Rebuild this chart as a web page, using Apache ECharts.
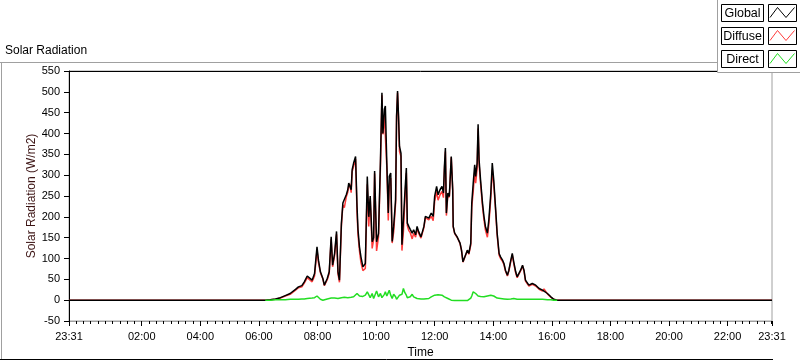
<!DOCTYPE html>
<html>
<head>
<meta charset="utf-8">
<title>Solar Radiation</title>
<script src="https://cdn.jsdelivr.net/npm/echarts@6/dist/echarts.min.js"></script>
<style>
    html, body { margin: 0; padding: 0; background: #fff; }
    #chart { width: 800px; height: 361px; }
</style>
</head>
<body>
<div id="chart"></div>
<script>
// series names / colours
const seriesNames = ['Global', 'Diffuse', 'Direct'];
const seriesColors = ['#000000', '#ff3b3b', '#22dd22'];

// x axis runs from 23:31 the day before to 23:31 (minutes of day)
const axisStart = -29;
const axisEnd = 1411;
const majorTicks = [-29, 120, 240, 360, 480, 600, 720, 840, 960, 1080, 1200, 1320, 1411];

// sample times
const times = [
    '06:13', '06:23', '06:34', '06:44', '06:54', '07:04', '07:15', '07:21', '07:28', '07:33',
    '07:39', '07:42', '07:49', '07:54', '07:59', '08:02', '08:06', '08:11', '08:14', '08:20',
    '08:24', '08:28', '08:31', '08:35', '08:39', '08:42', '08:45', '08:49', '08:52', '08:55',
    '08:59', '09:02', '09:04', '09:06', '09:09', '09:11', '09:14', '09:18', '09:21', '09:23',
    '09:26', '09:29', '09:33', '09:38', '09:42', '09:45', '09:48', '09:52', '09:55', '09:57',
    '10:01', '10:05', '10:09', '10:12', '10:14', '10:17', '10:19', '10:22', '10:25', '10:27',
    '10:30', '10:33', '10:36', '10:40', '10:42', '10:44', '10:46', '10:48', '10:51', '10:53',
    '10:56', '10:59', '11:02', '11:04', '11:07', '11:10', '11:14', '11:17', '11:21', '11:24',
    '11:27', '11:32', '11:38', '11:41', '11:48', '11:53', '11:57', '12:00', '12:04', '12:07',
    '12:11', '12:15', '12:18', '12:20', '12:22', '12:24', '12:27', '12:30', '12:34', '12:37',
    '12:38', '12:41', '12:46', '12:52', '12:55', '12:58', '13:02', '13:07', '13:10', '13:14',
    '13:16', '13:19', '13:22', '13:24', '13:27', '13:29', '13:31', '13:34', '13:38', '13:41',
    '13:44', '13:48', '13:51', '13:55', '13:58', '14:01', '14:05', '14:08', '14:12', '14:15',
    '14:19', '14:22', '14:25', '14:29', '14:32', '14:36', '14:39', '14:42', '14:46', '14:49',
    '14:53', '14:56', '15:00', '15:03', '15:06', '15:13', '15:20', '15:27', '15:34', '15:41',
    '15:44', '15:51', '15:58', '16:04', '16:11'
];

// W/m2
const globalW = [
    0, 1, 3, 6, 11, 16, 26, 32, 35, 44,
    58, 56, 48, 64, 128, 96, 68, 52, 36, 52,
    68, 152, 84, 112, 165, 68, 48, 185, 233, 229,
    253, 265, 281, 285, 265, 313, 329, 345, 225, 169,
    128, 104, 80, 88, 297, 200, 250, 140, 150, 310,
    140, 160, 337, 498, 400, 458, 466, 329, 209, 297,
    305, 141, 177, 241, 442, 502, 442, 369, 353, 133,
    193, 257, 317, 185, 177, 170, 161, 169, 157, 177,
    165, 152, 177, 201, 197, 209, 201, 249, 273, 253,
    265, 273, 257, 321, 365, 209, 257, 249, 345, 265,
    177, 161, 152, 137, 120, 92, 96, 120, 112, 137,
    233, 281, 325, 297, 329, 422, 337, 289, 233, 201,
    177, 161, 193, 257, 329, 289, 217, 161, 112, 104,
    96, 88, 72, 60, 72, 96, 112, 92, 68, 56,
    52, 72, 84, 72, 48, 36, 40, 36, 28, 24,
    28, 16, 8, 2, 0
];

const diffuseW = [
    0, 1, 2, 5, 10, 14, 24, 30, 32, 41,
    54, 52, 44, 58, 120, 90, 66, 51, 35, 49,
    64, 146, 80, 107, 158, 63, 43, 179, 228, 222,
    248, 259, 273, 279, 258, 308, 321, 339, 210, 157,
    118, 90, 71, 76, 278, 177, 244, 124, 146, 304,
    118, 152, 321, 492, 398, 444, 446, 319, 191, 273,
    293, 137, 163, 233, 440, 498, 436, 357, 345, 119,
    165, 239, 305, 179, 167, 162, 147, 161, 151, 173,
    161, 149, 174, 198, 193, 201, 191, 237, 261, 240,
    253, 261, 246, 313, 357, 203, 253, 247, 343, 264,
    176, 160, 151, 136, 119, 91, 95, 119, 110, 132,
    223, 261, 307, 281, 316, 412, 327, 280, 225, 193,
    168, 151, 182, 245, 313, 279, 211, 156, 108, 100,
    93, 85, 70, 58, 70, 93, 109, 88, 65, 54,
    50, 70, 82, 70, 46, 34, 38, 34, 26, 22,
    27, 15, 7, 2, 0
];

const directW = [
    0, 0, 1, 1, 1, 2, 2, 2, 3, 3,
    4, 4, 5, 6, 10, 6, 2, 0, 1, 3,
    4, 5, 3, 5, 6, 4, 5, 6, 5, 7,
    5, 6, 8, 6, 7, 5, 8, 6, 16, 12,
    10, 14, 9, 12, 20, 24, 6, 16, 4, 0,
    22, 8, 16, 6, 2, 14, 20, 10, 18, 24,
    12, 4, 14, 8, 2, 0, 6, 12, 8, 14,
    28, 18, 12, 6, 10, 8, 14, 8, 6, 4,
    4, 3, 3, 3, 4, 8, 10, 12, 12, 13,
    12, 12, 11, 8, 8, 6, 4, 2, 0, -1,
    -1, -1, -1, -1, 0, -1, -1, -1, 2, 5,
    10, 20, 18, 16, 13, 10, 10, 9, 8, 8,
    9, 10, 11, 12, 16, 10, 6, 5, 4, 4,
    3, 3, 2, 2, 2, 3, 3, 4, 3, 2,
    2, 2, 2, 2, 2, 2, 2, 2, 2, 2,
    1, 1, 1, 0, 0
];

function toMin(s) {
    const p = s.split(':');
    return Number(p[0]) * 60 + Number(p[1]);
}
function fmtTime(v) {
    const m = ((Math.round(v) % 1440) + 1440) % 1440;
    const hh = Math.floor(m / 60), mm = m % 60;
    return (hh < 10 ? '0' : '') + hh + ':' + (mm < 10 ? '0' : '') + mm;
}

const tMin = times.map(toMin);
// outside the sampled period the trace sits on zero
const globalData = [[axisStart, 0]].concat(tMin.map((t, i) => [t, globalW[i]]), [[axisEnd, 0]]);
const diffuseData = [[axisStart, 0]].concat(tMin.map((t, i) => [t, diffuseW[i]]), [[axisEnd, 0]]);
const directData = tMin.map((t, i) => [t, directW[i]]);

// minor ticks every 15 minutes
const minorTicks = [];
for (let m = -15; m < axisEnd; m += 15) minorTicks.push(m);

const font = 'Liberation Sans, Arial, sans-serif';

// legend drawn LabVIEW style
const legendItems = [];
legendItems.push({
    type: 'rect', z: 100,
    shape: { x: 717.5, y: -2, width: 90, height: 74.5 },
    style: { fill: '#fff', stroke: '#a0a0a0', lineWidth: 1 }
});
seriesNames.forEach((name, i) => {
    const y0 = 4.5 + i * 23;
    legendItems.push({
        type: 'rect', z: 101,
        shape: { x: 721.5, y: y0, width: 42, height: 17 },
        style: { fill: '#fff', stroke: '#000', lineWidth: 1 }
    });
    legendItems.push({
        type: 'text', z: 102, x: 742.5, y: y0 + 9,
        style: { text: name, font: '12.5px ' + font, fill: '#000', align: 'center', verticalAlign: 'middle' }
    });
    legendItems.push({
        type: 'rect', z: 101,
        shape: { x: 768.5, y: y0, width: 28, height: 17 },
        style: { fill: '#fff', stroke: '#000', lineWidth: 1 }
    });
    legendItems.push({
        type: 'polyline', z: 102,
        shape: { points: [[770, y0 + 13], [777.5, y0 + 3], [786, y0 + 13], [794.5, y0 + 3]] },
        style: { stroke: seriesColors[i], lineWidth: 1, fill: null }
    });
});

const frameLines = [
    { type: 'line', z: 1, shape: { x1: 0, y1: 62.5, x2: 718, y2: 62.5 }, style: { stroke: '#a0a0a0', lineWidth: 1 } },
    { type: 'line', z: 1, shape: { x1: 1.5, y1: 62, x2: 1.5, y2: 360 }, style: { stroke: '#a0a0a0', lineWidth: 1 } },
    { type: 'line', z: 1, shape: { x1: 0, y1: 359.5, x2: 773, y2: 359.5 }, style: { stroke: '#000', lineWidth: 1 } }
];

const myChart = echarts.init(document.getElementById('chart'));
const option = {
    animation: false,
    backgroundColor: '#fff',
    title: {
        text: 'Solar Radiation',
        left: 5,
        top: 45,
        padding: 0,
        textStyle: { fontFamily: font, fontSize: 12, fontWeight: 'normal', color: '#000' }
    },
    grid: {
        left: 69, right: 28, top: 71, bottom: 40,
        outerBoundsMode: 'none',
        show: true, borderColor: '#a0a0a0', borderWidth: 1, backgroundColor: '#fff'
    },
    graphic: frameLines.concat(legendItems),
    xAxis: [
        {
            type: 'value', min: axisStart, max: axisEnd, position: 'bottom',
            name: 'Time', nameLocation: 'middle', nameGap: 26, nameMoveOverlap: false,
            nameTextStyle: { fontFamily: font, fontSize: 12, color: '#000' },
            axisLine: { show: true, onZero: false, lineStyle: { color: '#a0a0a0', width: 1 } },
            axisTick: { show: true, customValues: majorTicks, length: 5, lineStyle: { color: '#000' } },
            axisLabel: { customValues: majorTicks, formatter: fmtTime, margin: 10,
                fontFamily: font, fontSize: 11, color: '#000' },
            splitLine: { show: false }
        },
        {
            type: 'value', min: axisStart, max: axisEnd, position: 'bottom',
            axisLine: { show: false, onZero: false },
            axisTick: { show: true, customValues: minorTicks, length: 3, lineStyle: { color: '#000' } },
            axisLabel: { show: false },
            splitLine: { show: false }
        },
        {
            type: 'value', min: axisStart, max: axisEnd, position: 'top',
            axisLine: { show: true, onZero: false, lineStyle: { color: '#000', width: 1 } },
            axisTick: { show: false },
            axisLabel: { show: false },
            splitLine: { show: false }
        }
    ],
    yAxis: {
        type: 'value', min: -50, max: 550, interval: 50,
        name: 'Solar Radiation (W/m2)', nameLocation: 'middle', nameGap: 31, nameRotate: 90,
        nameMoveOverlap: false,
        nameTextStyle: { fontFamily: font, fontSize: 12, color: '#3c1414' },
        axisLine: { show: true, onZero: false, lineStyle: { color: '#000', width: 1 } },
        axisTick: { show: true, length: 5, lineStyle: { color: '#000' } },
        axisLabel: { margin: 9, fontFamily: font, fontSize: 11, color: '#000' },
        splitLine: { show: false }
    },
    series: [
        {
            name: seriesNames[1], type: 'line', data: diffuseData, z: 2, xAxisIndex: 0,
            showSymbol: false, lineStyle: { color: seriesColors[1], width: 1.5 }
        },
        {
            name: seriesNames[0], type: 'line', data: globalData, z: 3, xAxisIndex: 0,
            showSymbol: false, lineStyle: { color: seriesColors[0], width: 1.5 }
        },
        {
            name: seriesNames[2], type: 'line', data: directData, z: 4, xAxisIndex: 0,
            showSymbol: false, lineStyle: { color: seriesColors[2], width: 1.5 }
        }
    ]
};
myChart.setOption(option);
</script>
</body>
</html>
